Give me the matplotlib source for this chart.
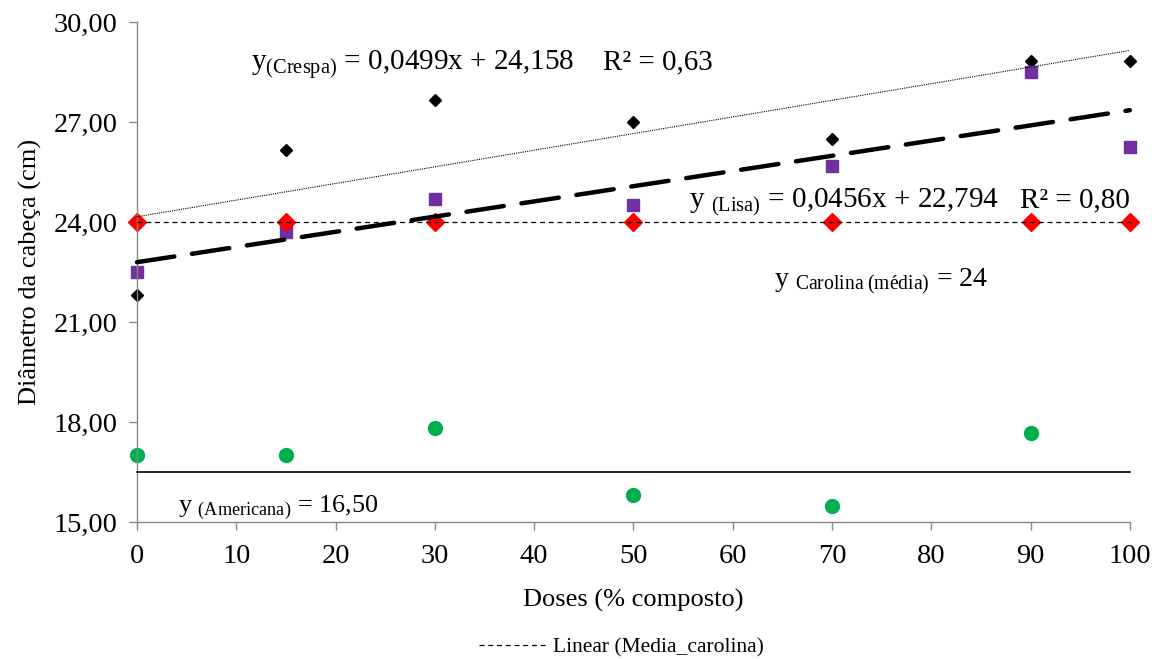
import matplotlib
matplotlib.use("Agg")
import matplotlib.pyplot as plt
import numpy as np
from matplotlib.lines import Line2D

plt.rcParams['font.family'] = ['Liberation Serif', 'DejaVu Serif']
plt.rcParams['mathtext.fontset'] = 'custom'
plt.rcParams['mathtext.rm'] = 'Liberation Serif'
plt.rcParams['mathtext.it'] = 'Liberation Serif:italic'

doses = [0, 15, 30, 50, 70, 90, 100]
crespa = [21.82, 26.17, 27.67, 27.0, 26.5, 28.84, 28.84]
lisa = [22.5, 23.69, 24.69, 24.5, 25.67, 28.51, 26.25]
carolina = [24, 24, 24, 24, 24, 24, 24]
doses_americana = [0, 15, 30, 50, 70, 90]
americana = [17.0, 17.0, 17.83, 15.82, 15.49, 17.67]

crespa_coef = (0.0499, 24.158)
lisa_coef = (0.0456, 22.794)
carolina_mean = 24.0
americana_mean = 16.5

fig = plt.figure(figsize=(11.6, 6.59), dpi=100)
ax = fig.add_axes([0.1181, 0.2079, 0.974 - 0.1181, 0.9666 - 0.2079])

ax.plot(doses, crespa, 'D', color='black', markersize=6.5, zorder=2, linestyle='none')
ax.plot(doses, lisa, 's', color='#7030A0', markersize=8, zorder=2, linestyle='none')
ax.plot(doses, carolina, 'D', color='#FF0000', markersize=9, zorder=2, linestyle='none')
ax.plot(doses_americana, americana, 'o', color='#00B050', markersize=10, zorder=2, linestyle='none')

xl = np.array([0, 100])
ax.plot(xl, crespa_coef[0] * xl + crespa_coef[1], color='black', lw=0.8,
        linestyle=(0, (1, 1)), zorder=3)
ax.plot(xl, lisa_coef[0] * xl + lisa_coef[1], color='black', lw=3.2,
        linestyle=(0, (8.5, 4)), zorder=3, solid_capstyle='round', dash_capstyle='round')
ax.plot(xl, [carolina_mean, carolina_mean], color='black', lw=0.9,
        linestyle=(0, (4, 3)), zorder=3)
ax.plot(xl, [americana_mean, americana_mean], color='black', lw=1.2, zorder=3)

ax.set_xlim(0, 100)
ax.set_ylim(15, 30)
ax.set_xticks(range(0, 101, 10))
ax.set_yticks([15, 18, 21, 24, 27, 30])
ax.set_yticklabels(['15,00', '18,00', '21,00', '24,00', '27,00', '30,00'])
for s in ['top', 'right']:
    ax.spines[s].set_visible(False)
for s in ['left', 'bottom']:
    ax.spines[s].set_color('#888888')
    ax.spines[s].set_linewidth(1.0)
ax.tick_params(axis='both', direction='out', color='#888888', length=6, width=1,
               labelsize=20.5)
ax.tick_params(axis='y', pad=8)
ax.tick_params(axis='x', pad=10)
for art in ax.lines:
    art.set_clip_on(False)

ax.set_xlabel('Doses (% composto)', fontsize=19, labelpad=14)
ax.set_ylabel('Diâmetro da cabeça (cm)', fontsize=19, labelpad=8)

ax.text(11.5, 28.57, r'y$_{\mathrm{(Crespa)}}$ = 0,0499x + 24,158',
        fontsize=21, va='baseline', ha='left')
ax.text(46.9, 28.57, 'R² = 0,63', fontsize=21, va='baseline', ha='left')
ax.text(55.6, 24.43, r'y $_{\mathrm{(Lisa)}}$ = 0,0456x + 22,794',
        fontsize=21, va='baseline', ha='left')
ax.text(88.9, 24.43, 'R² = 0,80', fontsize=21, va='baseline', ha='left')
ax.text(64.2, 22.06, r'y $_{\mathrm{Carolina\ (m\acute{e}dia)}}$ = 24',
        fontsize=20.2, va='baseline', ha='left')
ax.text(4.1, 15.28, r'y $_{\mathrm{(Americana)}}$ = 16,50',
        fontsize=18.8, va='baseline', ha='left')

handle = Line2D([], [], color='black', lw=0.9, linestyle=(0, (4, 3)))
fig.legend([handle], ['Linear (Media_carolina)'], loc='center',
           bbox_to_anchor=(0.5358, 0.018), frameon=False, fontsize=15.5,
           handlelength=3.1, handletextpad=0.37)

fig.savefig('out.png', dpi=100)
